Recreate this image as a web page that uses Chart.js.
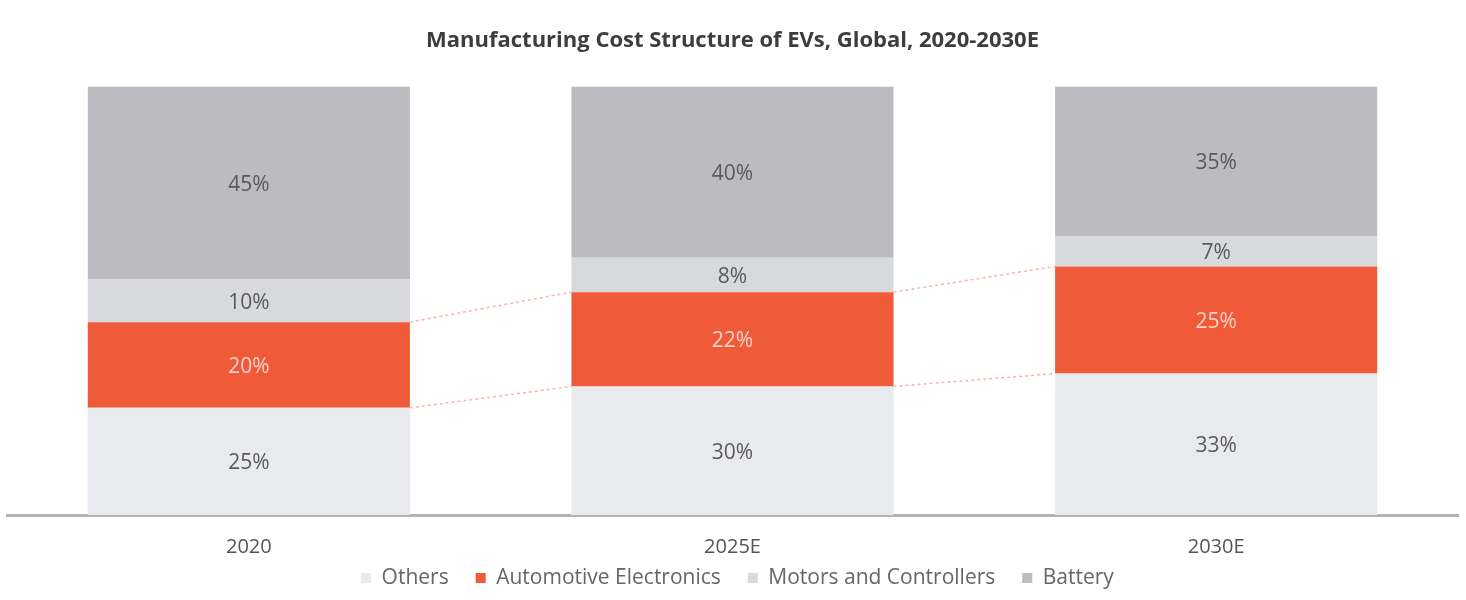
<!DOCTYPE html>
<html><head><meta charset="utf-8">
<script src="https://cdn.jsdelivr.net/npm/chart.js@4/dist/chart.umd.min.js"></script>
<style>html,body{margin:0;padding:0;background:#fff;}canvas{display:block;}</style>
</head><body>
<canvas id="c" width="1466" height="600"></canvas>
<script>
const categories = ['2020', '2025E', '2030E'];
const others = [25, 30, 33];
const autoElectronics = [20, 22, 25];
const motors = [10, 8, 7];
const battery = [45, 40, 35];
const seriesNames = ['Others', 'Automotive Electronics', 'Motors and Controllers', 'Battery'];
const FONT = "'Open Sans', 'Noto Sans', sans-serif";

const labelPlugin = {
  id: 'segLabels',
  afterDatasetsDraw(chart) {
    const ctx = chart.ctx;
    ctx.save();
    ctx.font = '21px ' + FONT;
    ctx.textAlign = 'center';
    ctx.textBaseline = 'middle';
    chart.data.datasets.forEach((ds, di) => {
      const meta = chart.getDatasetMeta(di);
      meta.data.forEach((bar, i) => {
        const y = (bar.y + bar.base) / 2 + 2;
        ctx.fillStyle = di === 1 ? '#fbd3c8' : '#5a5a5a';
        ctx.fillText(ds.data[i] + '%', bar.x, y);
      });
    });
    ctx.restore();
  }
};

const connectorPlugin = {
  id: 'connectors',
  afterDatasetsDraw(chart) {
    const ctx = chart.ctx;
    const meta = chart.getDatasetMeta(1);
    ctx.save();
    ctx.strokeStyle = 'rgba(235,120,100,0.55)';
    ctx.lineWidth = 1.5;
    ctx.setLineDash([3, 3]);
    for (let i = 0; i < meta.data.length - 1; i++) {
      const a = meta.data[i], b = meta.data[i + 1];
      const ax = a.x + a.width / 2, bx = b.x - b.width / 2;
      ctx.beginPath(); ctx.moveTo(ax, a.y); ctx.lineTo(bx, b.y); ctx.stroke();
      ctx.beginPath(); ctx.moveTo(ax, a.base); ctx.lineTo(bx, b.base); ctx.stroke();
    }
    ctx.restore();
  }
};

// compact legend box so it sits close under the category labels
const legendFitPlugin = {
  id: 'legendFit',
  beforeInit(chart) {
    const lg = chart.legend;
    if (!lg) return;
    const orig = lg.fit.bind(lg);
    lg.fit = function () { orig(); this.height = 21; };
  },
  afterLayout(chart) {
    const lg = chart.legend;
    if (!lg) return;
    lg.top -= 38.5;
    lg.bottom = chart.height;
    lg.height = lg.bottom - lg.top;
    lg.left += 5; lg.right += 5;
  }
};

new Chart(document.getElementById('c'), {
  type: 'bar',
  data: {
    labels: categories,
    datasets: [
      { label: seriesNames[0], data: others, backgroundColor: '#e9eaee' },
      { label: seriesNames[1], data: autoElectronics, backgroundColor: '#ef5a38' },
      { label: seriesNames[2], data: motors, backgroundColor: '#d7d9dd' },
      { label: seriesNames[3], data: battery, backgroundColor: '#bcbcc0' }
    ]
  },
  options: {
    responsive: false,
    animation: false,
    datasets: { bar: { barPercentage: 0.666, categoryPercentage: 1.0 } },
    layout: { padding: { left: 7, right: 8, bottom: 0 } },
    plugins: {
      title: {
        display: true,
        text: 'Manufacturing Cost Structure of EVs, Global, 2020-2030E',
        font: { family: FONT, size: 22, weight: 'bold' },
        color: '#3d3d3d',
        padding: { top: 28, bottom: 32 }
      },
      legend: {
        position: 'bottom',
        labels: {
          font: { family: FONT, size: 21 },
          color: '#666',
          boxWidth: 10, boxHeight: 10,
          padding: 27
        }
      },
      tooltip: { enabled: false }
    },
    scales: {
      x: {
        stacked: true,
        grid: { display: false, drawTicks: false },
        border: { display: true, color: '#b3b3b3', width: 3 },
        ticks: { font: { family: FONT, size: 20 }, color: '#555', padding: 20 }
      },
      y: {
        stacked: true,
        display: false,
        min: 0, max: 100
      }
    }
  },
  plugins: [labelPlugin, connectorPlugin, legendFitPlugin]
});
</script>
</body></html>
